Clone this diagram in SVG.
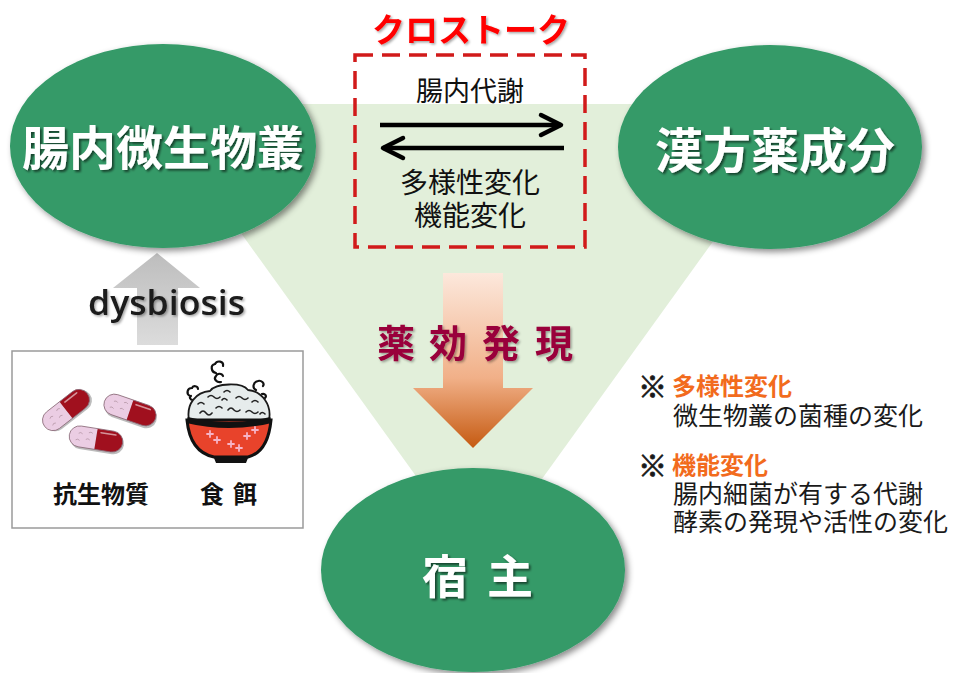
<svg xmlns="http://www.w3.org/2000/svg" width="954" height="673" viewBox="0 0 954 673">
  <defs>
    <style>
      .jp { font-family: "Noto Sans CJK JP", "Noto Sans", sans-serif; }
      .node-fill { fill: #349A68; }
      .node-text { fill: #ffffff; font-weight: 700; }
      .body { fill: #1a1a1a; font-size: 25px; }
      .head { fill: #F26B1D; font-size: 24px; font-weight: 700; }
      .mark { fill: #1a1a1a; font-size: 29px; font-weight: 700; stroke: #1a1a1a; stroke-width: 0.8; }
      .flow { stroke: #000; stroke-width: 4.5; fill: none; }
      .steam { stroke: #111; stroke-width: 2.2; fill: none; stroke-linecap: round; }
      .grain { stroke: #222; stroke-width: 1.6; fill: none; stroke-linecap: round; }
    </style>
    <filter id="shadow" x="-10%" y="-10%" width="125%" height="125%">
      <feDropShadow dx="3" dy="3" stdDeviation="3" flood-color="#000" flood-opacity="0.45"/>
    </filter>
    <filter id="txtShadow" x="-10%" y="-20%" width="125%" height="150%">
      <feDropShadow dx="2" dy="2" stdDeviation="1.2" flood-color="#000" flood-opacity="0.55"/>
    </filter>
    <filter id="softShadow" x="-10%" y="-20%" width="125%" height="150%">
      <feDropShadow dx="1.5" dy="1.5" stdDeviation="1.2" flood-color="#000" flood-opacity="0.35"/>
    </filter>
    <linearGradient id="gradDown" x1="0" y1="0" x2="0" y2="1">
      <stop offset="0" stop-color="#FCE8DC"/>
      <stop offset="0.6" stop-color="#F1B088"/>
      <stop offset="1" stop-color="#C55A11"/>
    </linearGradient>
    <linearGradient id="gradUp" x1="0" y1="0" x2="0" y2="1">
      <stop offset="0" stop-color="#BDBDBD"/>
      <stop offset="1" stop-color="#DCDCDC"/>
    </linearGradient>
    <marker id="chevron" viewBox="-26 -14 30 28" markerWidth="30" markerHeight="28" refX="0" refY="0" markerUnits="userSpaceOnUse" orient="auto">
      <path d="M-20,-10 L0,0 L-20,10" fill="none" stroke="#000" stroke-width="4.5" stroke-linejoin="round" stroke-linecap="round"/>
    </marker>
    <!-- capsule: pink half on -x, red half on +x -->
    <g id="capsule">
      <rect x="-27" y="-10.5" width="54" height="21" rx="10.5" fill="#7a7a7a" transform="translate(1.5,2)" opacity="0.5"/>
      <path d="M0,-10.5 H-16.5 A10.5,10.5 0 0 0 -16.5,10.5 H0 Z" fill="#EBCDE3"/>
      <path d="M0,-10.5 H16.5 A10.5,10.5 0 0 1 16.5,10.5 H0 Z" fill="#A0101E"/>
      <rect x="-27" y="-10.5" width="54" height="21" rx="10.5" fill="none" stroke="#8a6a78" stroke-width="0.8"/>
      <path d="M4,-7 H19" stroke="#ffffff" stroke-width="1.6" opacity="0.55" stroke-linecap="round"/>
      <path d="M-18,-3 q2,-2 4,0 M-10,2 q2,-2 4,0 M-20,4 q2,-2 4,0 M-8,-5 q2,-2 4,0" stroke="#b99aaa" stroke-width="0.8" fill="none"/>
    </g>
  </defs>

  <rect width="954" height="673" fill="#ffffff"/>

  <!-- background triangle linking the three nodes -->
  <polygon points="148,104 812,104 480,565" fill="#E2EFDA"/>

  <g id="connectors">
    <!-- pharmacological effect arrow -->
    <polygon points="443,273 503,273 503,388 533,388 473,448 413,388 443,388" fill="url(#gradDown)"/>
    <!-- dysbiosis arrow -->
    <polygon points="157,253 200,288 178,288 178,345 137,345 137,288 113,288" fill="url(#gradUp)"/>
    <!-- crosstalk arrows -->
    <line class="flow" x1="380" y1="125" x2="561" y2="125" marker-end="url(#chevron)"/>
    <line class="flow" x1="564" y1="148" x2="383" y2="148" marker-end="url(#chevron)"/>
  </g>

  <g id="node-microbiota">
    <ellipse class="node-fill" cx="163" cy="146" rx="153" ry="102" filter="url(#shadow)"/>
    <text class="jp node-text" x="163" y="165" font-size="47" text-anchor="middle" filter="url(#txtShadow)">腸内微生物叢</text>
  </g>

  <g id="node-kampo">
    <ellipse class="node-fill" cx="770" cy="147" rx="152" ry="102" filter="url(#shadow)"/>
    <text class="jp node-text" x="775" y="168" font-size="48" text-anchor="middle" filter="url(#txtShadow)">漢方薬成分</text>
  </g>

  <g id="node-host">
    <ellipse class="node-fill" cx="473" cy="570" rx="152" ry="102" filter="url(#shadow)"/>
    <text class="jp node-text" x="422 468 487" y="593" font-size="46" filter="url(#txtShadow)">宿 主</text>
  </g>

  <g id="crosstalk">
    <text class="jp" x="471" y="42" font-size="33" font-weight="700" fill="#FF0000" text-anchor="middle" filter="url(#softShadow)">クロストーク</text>
    <rect x="355" y="55" width="230" height="192" fill="none" stroke="#D11A1A" stroke-width="3.5" stroke-dasharray="18 9"/>
    <text class="jp" x="470" y="101" font-size="27" fill="#111" text-anchor="middle">腸内代謝</text>
    <text class="jp" x="470" y="193" font-size="28" fill="#111" text-anchor="middle">多様性変化</text>
    <text class="jp" x="470" y="226" font-size="28" fill="#111" text-anchor="middle">機能変化</text>
  </g>

  <g id="label-effect">
    <text class="jp" x="377 415 429 467 482 520 535" y="357" font-size="38" font-weight="700" fill="#99003A" filter="url(#softShadow)">薬 効 発 現</text>
  </g>

  <g id="label-dysbiosis">
    <text x="88" y="315" font-family="'Open Sans', 'Liberation Sans', sans-serif" font-size="34" font-weight="600" fill="#1a1a1a" textLength="157" lengthAdjust="spacingAndGlyphs" filter="url(#softShadow)">dysbiosis</text>
  </g>

  <g id="node-factors">
    <rect x="12" y="351" width="291" height="177" fill="#ffffff" stroke="#9a9a9a" stroke-width="1.5"/>
    <!-- capsules -->
    <use href="#capsule" transform="translate(66,410) rotate(-38)"/>
    <use href="#capsule" transform="translate(130,410) rotate(19)"/>
    <use href="#capsule" transform="translate(96,439) rotate(9)"/>
    <!-- rice bowl: steam -->
    <path class="steam" d="M216,373 c-5,-1 -6,-8 -1,-9 c2,-4 9,-3 8,2 M221,382 c-4,1 -8,-3 -5,-6 c1,-3 6,-3 7,0"/>
    <path class="steam" d="M190,396 c-4,-2 -3,-8 2,-8 c1,-3 6,-2 6,1 M193,400 c-3,0 -4,-3 -2,-4"/>
    <path class="steam" d="M256,390 c-4,-2 -3,-8 2,-9 c3,-1 7,2 5,5 M262,394 c3,-1 5,2 3,4"/>
    <!-- rice mound -->
    <path d="M189,420 C186,404 196,392 210,391 C216,383 242,382 248,390 C262,391 272,405 269,420 Z" fill="#E6ECEC" stroke="#1a1a1a" stroke-width="1.8"/>
    <path class="grain" d="M198,404 q3,-3 6,0 M208,397 q3,-3 6,0 q3,3 6,0 M224,392 q3,-3 6,0 M236,398 q3,-3 6,0 q3,3 6,0 M252,402 q3,-3 6,0 M200,413 q3,-4 6,0 q3,4 6,0 M216,408 q3,-3 6,0 M228,410 q3,-4 6,0 q3,3 6,0 M246,412 q3,-3 6,0 q3,3 6,0 M260,414 q2,-3 5,0 M222,400 q2,-3 5,0"/>
    <!-- bowl -->
    <path d="M187,420 Q190,452 214,457 L248,457 Q268,452 271,420 Z" fill="#E8432B" stroke="#111" stroke-width="3"/>
    <path d="M187,420 Q229,430 271,420" fill="none" stroke="#111" stroke-width="6"/>
    <path d="M214,458 L248,458 L246,463 L216,463 Z" fill="#111"/>
    <!-- bowl flowers -->
    <g stroke="#F6B3C6" stroke-width="1.8" stroke-linecap="round">
      <path d="M207,434 h6 M210,431 v6 M214,440 h6 M217,437 v6"/>
      <path d="M228,444 h6 M231,441 v6 M236,448 h6 M239,445 v6"/>
      <path d="M244,436 h6 M247,433 v6 M252,430 h6 M255,427 v6"/>
    </g>
    <text class="jp" x="53" y="503" font-size="24" font-weight="700" fill="#111">抗生物質</text>
    <text class="jp" x="200 224 233" y="503" font-size="24" font-weight="700" fill="#111">食 餌</text>
  </g>

  <g id="notes">
    <text class="jp mark" x="638" y="398">※</text>
    <text class="jp head" x="672" y="395">多様性変化</text>
    <text class="jp body" x="673" y="425">微生物叢の菌種の変化</text>
    <text class="jp mark" x="638" y="477">※</text>
    <text class="jp head" x="672" y="474">機能変化</text>
    <text class="jp body" x="673" y="503">腸内細菌が有する代謝</text>
    <text class="jp body" x="673" y="531">酵素の発現や活性の変化</text>
  </g>
</svg>
